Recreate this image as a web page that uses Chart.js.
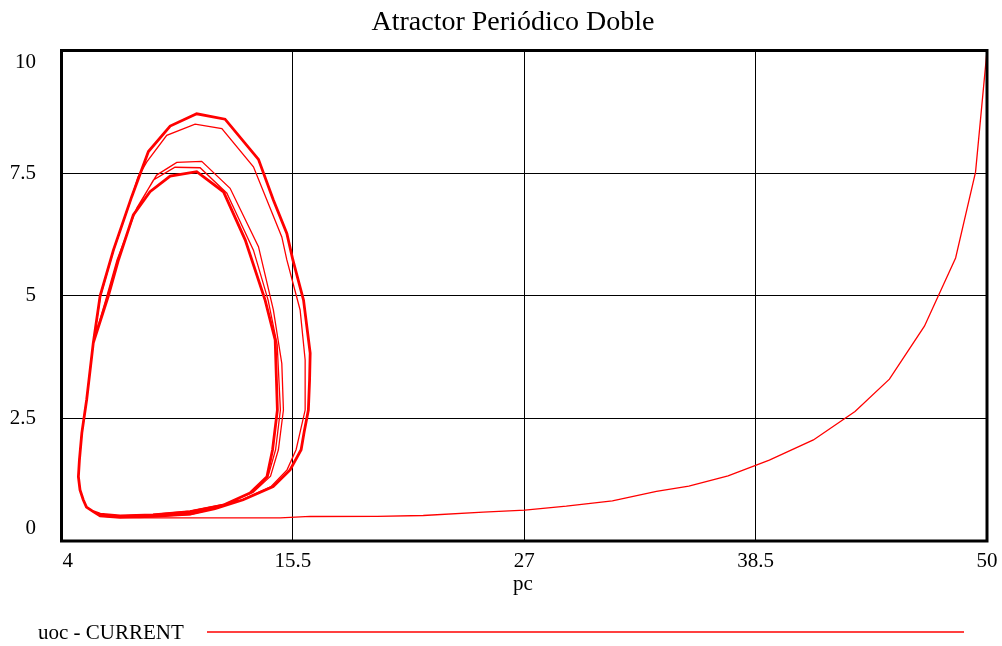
<!DOCTYPE html>
<html>
<head>
<meta charset="utf-8">
<script src="https://cdn.jsdelivr.net/npm/chart.js@4/dist/chart.umd.min.js"></script>
<style>
  html, body { margin: 0; padding: 0; background: #ffffff; }
  canvas { display: block; }
</style>
</head>
<body>
<canvas id="chart" width="1002" height="646"></canvas>
<script>
// Labels
const chartTitle = 'Atractor Periódico Doble';
const xAxisTitle = 'pc';
const seriesName = 'uoc - CURRENT';

// Axis ticks
const xTickValues = [4, 15.5, 27, 38.5, 50];
const xTickLabels = ['4', '15.5', '27', '38.5', '50'];
const yTickValues = [0, 2.5, 5, 7.5, 10];
const yTickLabels = ['0', '2.5', '5', '7.5', '10'];

// Transient: from the initial state down along the floor into the loops
const tailPc  = [50, 49.43, 48.44, 46.89, 45.15, 43.44, 41.37, 39.18, 37.13, 35.18, 33.57, 31.38, 29.09, 27.03, 24.96, 21.98, 19.69, 16.36, 14.87, 12.38, 9.89, 7.90, 6.66, 5.92, 5.58, 5.24, 5.08, 4.92, 4.84];
const tailUoc = [10, 7.52, 5.77, 4.38, 3.30, 2.64, 2.06, 1.65, 1.33, 1.12, 1.01, 0.82, 0.71, 0.63, 0.59, 0.52, 0.50, 0.50, 0.47, 0.47, 0.47, 0.47, 0.48, 0.51, 0.60, 0.69, 0.84, 1.04, 1.31];

// Loop 1: small cycle, peak ~7.74
const loop1Pc  = [4.89, 5.01, 5.25, 5.58, 6.26, 6.76, 7.74, 8.73, 9.73, 10.97, 12.38, 13.79, 14.53, 14.95, 15.03, 14.78, 14.39, 13.52, 12.13, 10.39, 8.55, 6.91, 5.92, 5.58, 5.24, 5.08, 4.92, 4.84];
const loop1Uoc = [1.65, 2.20, 2.88, 4.04, 5.00, 5.73, 6.79, 7.46, 7.72, 7.74, 7.19, 6.00, 4.71, 3.62, 2.67, 1.86, 1.32, 0.99, 0.75, 0.61, 0.54, 0.51, 0.54, 0.60, 0.69, 0.84, 1.04, 1.31];

// Loop 2: large cycle, peak ~8.50
const loop2Pc  = [4.89, 5.01, 5.25, 5.58, 5.94, 6.59, 7.48, 7.80, 8.24, 9.23, 10.64, 11.97, 13.54, 14.95, 15.20, 15.86, 16.11, 16.11, 15.66, 15.21, 14.42, 12.98, 11.58, 10.39, 8.55, 6.91, 5.92, 5.58, 5.24, 5.08, 4.92, 4.84];
const loop2Uoc = [1.65, 2.20, 2.88, 4.04, 5.00, 5.93, 7.00, 7.42, 7.73, 8.27, 8.50, 8.41, 7.63, 6.20, 5.73, 4.71, 3.69, 2.67, 1.86, 1.45, 1.11, 0.84, 0.66, 0.54, 0.50, 0.49, 0.52, 0.60, 0.69, 0.84, 1.04, 1.31];

// Loop 3: small cycle, peak ~7.62
const loop3Pc  = [4.89, 5.01, 5.25, 5.58, 6.29, 6.79, 7.66, 8.57, 9.64, 10.89, 12.22, 13.54, 14.27, 14.72, 14.88, 14.64, 14.27, 13.45, 12.08, 10.39, 8.55, 6.91, 5.92, 5.58, 5.24, 5.08, 4.92, 4.84];
const loop3Uoc = [1.65, 2.20, 2.88, 4.04, 5.00, 5.73, 6.71, 7.36, 7.62, 7.61, 7.09, 5.93, 4.91, 4.00, 2.67, 1.86, 1.32, 0.98, 0.74, 0.61, 0.53, 0.51, 0.55, 0.60, 0.69, 0.84, 1.04, 1.31];

// Loop 4: large cycle of the settled orbit, peak ~8.70
const loop4Pc  = [4.89, 5.01, 5.25, 5.58, 5.92, 6.58, 7.49, 8.32, 9.40, 10.72, 12.13, 13.79, 14.53, 15.20, 15.50, 16.03, 16.36, 16.33, 16.27, 16.06, 15.91, 15.36, 14.52, 13.03, 11.63, 10.39, 8.55, 6.91, 5.92, 5.58, 5.24, 5.08, 4.92, 4.84];
const loop4Uoc = [1.65, 2.20, 2.88, 4.04, 5.00, 5.93, 7.02, 7.94, 8.46, 8.71, 8.60, 7.78, 6.95, 6.27, 5.73, 4.91, 3.83, 3.28, 2.67, 2.22, 1.86, 1.45, 1.11, 0.84, 0.66, 0.55, 0.50, 0.48, 0.51, 0.60, 0.69, 0.84, 1.04, 1.31];

// Loop 5: small cycle of the settled orbit, peak ~7.53
const loop5Pc  = [4.89, 5.01, 5.25, 5.58, 6.33, 6.83, 7.57, 8.40, 9.40, 10.72, 12.05, 13.13, 14.12, 14.62, 14.73, 14.49, 14.21, 13.37, 12.03, 10.39, 8.55, 6.91, 5.92, 5.58, 5.24, 5.08, 4.92, 4.84];
const loop5Uoc = [1.65, 2.20, 2.88, 4.04, 5.00, 5.73, 6.65, 7.12, 7.44, 7.53, 7.12, 6.14, 4.91, 4.10, 2.67, 1.86, 1.31, 0.98, 0.73, 0.60, 0.53, 0.51, 0.55, 0.60, 0.69, 0.84, 1.04, 1.31];

// Full trajectory in time order
const pieces = [
  [tailPc, tailUoc], [loop1Pc, loop1Uoc], [loop2Pc, loop2Uoc],
  [loop3Pc, loop3Uoc], [loop4Pc, loop4Uoc], [loop5Pc, loop5Uoc]
];
const points = [];
pieces.forEach(([xs, ys]) => xs.forEach((v, i) => points.push({ x: v, y: ys[i] })));
// segments belonging to the settled (repeated) orbit are drawn heavier
const settledFrom = tailPc.length + loop1Pc.length + loop2Pc.length + loop3Pc.length;

const SERIF = '"Liberation Serif", "Times New Roman", serif';
const RED = '#ff0000';

const decorations = {
  id: 'decorations',
  afterDatasetsDraw(chart) {
    const { ctx, chartArea: a } = chart;
    ctx.save();
    ctx.strokeStyle = '#000000';
    ctx.lineWidth = 3;
    ctx.strokeRect(a.left, a.top, a.right - a.left, a.bottom - a.top);
    ctx.restore();
  },
  afterDraw(chart) {
    const { ctx, chartArea: a, scales } = chart;
    const xs = scales.x, ys = scales.y;
    ctx.save();
    ctx.fillStyle = '#000000';

    // title
    ctx.font = '28px ' + SERIF;
    ctx.textAlign = 'center';
    ctx.textBaseline = 'alphabetic';
    ctx.fillText(chartTitle, 513, 30);

    // x tick labels
    ctx.font = '21px ' + SERIF;
    xTickValues.forEach((v, i) => {
      const px = xs.getPixelForValue(v);
      ctx.textAlign = i === 0 ? 'left' : 'center';
      ctx.fillText(xTickLabels[i], i === 0 ? px + 1 : px, a.bottom + 26);
    });

    // x axis title
    ctx.textAlign = 'center';
    ctx.fillText(xAxisTitle, 523, a.bottom + 49);

    // y tick labels
    ctx.textAlign = 'right';
    ctx.textBaseline = 'middle';
    const last = yTickValues.length - 1;
    yTickValues.forEach((v, i) => {
      let py = ys.getPixelForValue(v);
      if (i === 0) py -= 13;
      if (i === last) py += 12;
      ctx.fillText(yTickLabels[i], 36, py);
    });

    // legend
    ctx.textAlign = 'left';
    ctx.textBaseline = 'alphabetic';
    ctx.fillText(seriesName, 38, 639);
    ctx.strokeStyle = RED;
    ctx.lineWidth = 1.4;
    ctx.beginPath();
    ctx.moveTo(207, 632);
    ctx.lineTo(964, 632);
    ctx.stroke();
    ctx.restore();
  }
};

new Chart(document.getElementById('chart'), {
  type: 'scatter',
  data: {
    datasets: [{
      label: seriesName,
      data: points,
      showLine: true,
      borderColor: RED,
      backgroundColor: RED,
      borderWidth: 1.3,
      pointRadius: 0,
      pointHoverRadius: 0,
      tension: 0,
      segment: {
        borderWidth: ctx => (ctx.p0DataIndex >= settledFrom ? 2.8 : 1.3)
      }
    }]
  },
  options: {
    responsive: false,
    animation: false,
    devicePixelRatio: 1,
    events: [],
    layout: { padding: { left: 61.5, right: 15, top: 50.5, bottom: 105 } },
    plugins: {
      legend: { display: false },
      title: { display: false },
      tooltip: { enabled: false }
    },
    scales: {
      x: {
        type: 'linear',
        min: 4,
        max: 50,
        afterBuildTicks: s => { s.ticks = xTickValues.map(v => ({ value: v })); },
        afterFit: s => { s.height = 0; },
        ticks: { display: false },
        border: { display: false },
        grid: { color: '#000000', lineWidth: 1, drawTicks: false }
      },
      y: {
        type: 'linear',
        min: 0,
        max: 10,
        afterBuildTicks: s => { s.ticks = yTickValues.map(v => ({ value: v })); },
        afterFit: s => { s.width = 0; },
        ticks: { display: false },
        border: { display: false },
        grid: { color: '#000000', lineWidth: 1, drawTicks: false }
      }
    }
  },
  plugins: [decorations]
});
</script>
</body>
</html>
